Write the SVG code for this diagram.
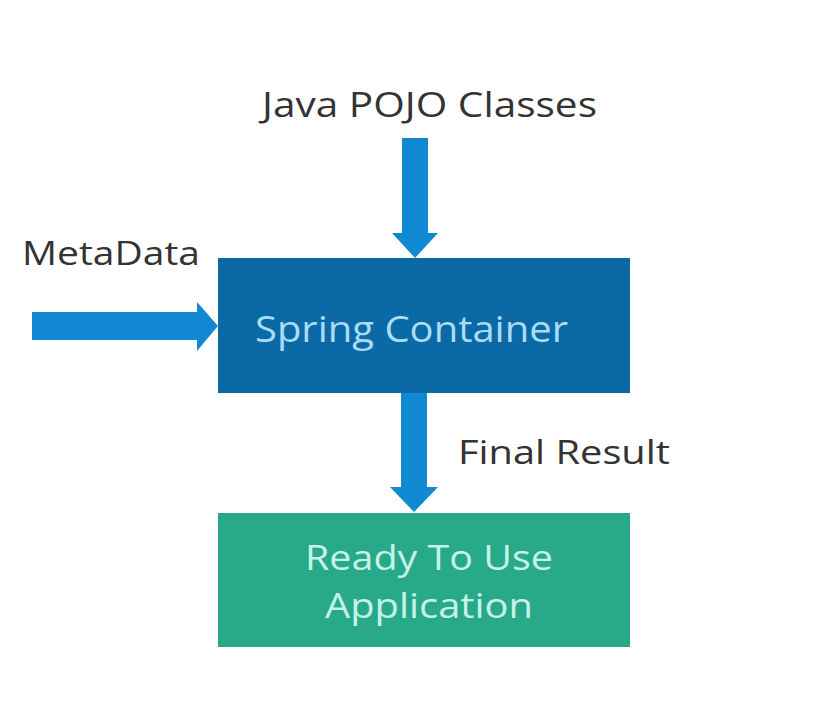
<svg xmlns="http://www.w3.org/2000/svg" width="827" height="708" viewBox="0 0 827 708">
<style>
.lbl{font-family:"Open Sans","Noto Sans","Liberation Sans",sans-serif;fill:#333333;}
.arrow{fill:#1188d2;}
.inner{font-family:"Open Sans","Noto Sans","Liberation Sans",sans-serif;}
</style>
<rect x="0" y="0" width="827" height="708" fill="#ffffff"/>
<g id="connectors">
<path class="arrow" d="M402,138 H428 V233 H438 L415,258 L392,233 H402 Z"/>
<path class="arrow" d="M32,312 H197 V302 L218,326 L197,351 V340 H32 Z"/>
<path class="arrow" d="M401,393 H427 V487 H438 L414,512 L390,487 H401 Z"/>
</g>
<g id="java-pojo">
<text class="lbl" x="262" y="117" font-size="35" textLength="335" lengthAdjust="spacingAndGlyphs">Java POJO Classes</text>
</g>
<g id="metadata">
<text class="lbl" x="22" y="265" font-size="32" textLength="178" lengthAdjust="spacingAndGlyphs">MetaData</text>
</g>
<g id="spring-container">
<rect x="218" y="258" width="412" height="135" fill="#0b6aa5"/>
<text class="inner" x="255" y="342" font-size="36" fill="#a9dcf5" textLength="313" lengthAdjust="spacingAndGlyphs">Spring Container</text>
</g>
<g id="final-result">
<text class="lbl" x="458" y="464" font-size="33" textLength="212" lengthAdjust="spacingAndGlyphs">Final Result</text>
</g>
<g id="ready-app">
<rect x="218" y="513" width="412" height="134" fill="#28a98a"/>
<text class="inner" x="305" y="570" font-size="34" fill="#c6f3e6" textLength="248" lengthAdjust="spacingAndGlyphs">Ready To Use</text>
<text class="inner" x="325" y="618" font-size="34" fill="#c6f3e6" textLength="208" lengthAdjust="spacingAndGlyphs">Application</text>
</g>
</svg>
